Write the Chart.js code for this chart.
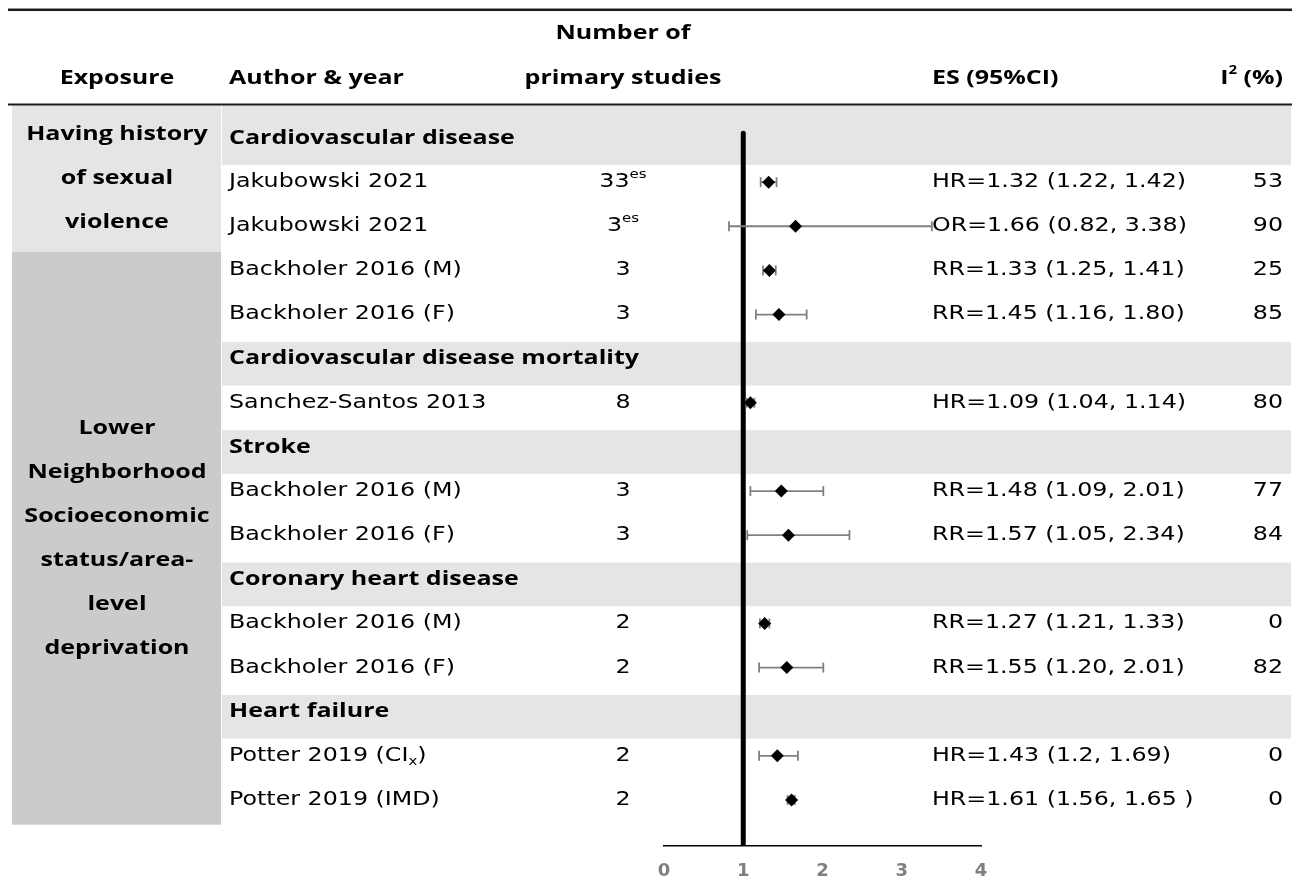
<!DOCTYPE html>
<html><head><meta charset="utf-8">
<script src="https://cdn.jsdelivr.net/npm/chart.js@4.4.1/dist/chart.umd.min.js"></script>
<style>html,body{margin:0;padding:0;background:#fff;}canvas{display:block;}</style>
</head><body>
<div style="width:1300px;height:881px"><canvas id="c" width="1300" height="881"></canvas></div>
<script>
// ---------------- data ----------------
const exposureLines = [['Having history','of sexual','violence'],['Lower','Neighborhood','Socioeconomic','status/area-','level','deprivation']];
const exposureStudyCount = [2, 9];
const outcomes = ['Cardiovascular disease','Cardiovascular disease mortality','Stroke','Coronary heart disease','Heart failure'];
const outcomeStudyCount = [4, 1, 2, 2, 2];
const studies = ['Jakubowski 2021','Jakubowski 2021','Backholer 2016 (M)','Backholer 2016 (F)','Sanchez-Santos 2013','Backholer 2016 (M)','Backholer 2016 (F)','Backholer 2016 (M)','Backholer 2016 (F)','Potter 2019 (CI~x~)','Potter 2019 (IMD)'];
const primaryStudies = ['33^es^','3^es^','3','3','8','3','3','2','2','2','2'];
const estimates = [1.32, 1.66, 1.33, 1.45, 1.09, 1.48, 1.57, 1.27, 1.55, 1.43, 1.61];
const lowerCI   = [1.22, 0.82, 1.25, 1.16, 1.04, 1.09, 1.05, 1.21, 1.20, 1.2, 1.56];
const upperCI   = [1.42, 3.38, 1.41, 1.80, 1.14, 2.01, 2.34, 1.33, 2.01, 1.69, 1.65];
const esLabels  = ['HR=1.32 (1.22, 1.42)','OR=1.66 (0.82, 3.38)','RR=1.33 (1.25, 1.41)','RR=1.45 (1.16, 1.80)','HR=1.09 (1.04, 1.14)','RR=1.48 (1.09, 2.01)','RR=1.57 (1.05, 2.34)','RR=1.27 (1.21, 1.33)','RR=1.55 (1.20, 2.01)','HR=1.43 (1.2, 1.69)','HR=1.61 (1.56, 1.65 )'];
const iSquared  = ['53','90','25','85','80','77','84','0','82','0','0'];
const headers   = {exposure:'Exposure', author:'Author & year', n1:'Number of', n2:'primary studies', es:'ES (95%CI)', i2:'I^2^ (%)'};
const xTicks = [0, 1, 2, 3, 4];
const nullValue = 1;

// ---------------- row structure ----------------
const rows = [];
let r = 0, k = 0;
outcomes.forEach((o, oi) => {
  rows.push({type:'hdr', text:o, y:r++});
  for (let j = 0; j < outcomeStudyCount[oi]; j++) rows.push({type:'study', k:k++, y:r++});
});
const studyRow = rows.filter(x => x.type === 'study').map(x => x.y);
const Y_MIN = -0.748, Y_MAX = 16.043;

// ---------------- text helpers ----------------
function parseRich(s){
  const segs = [];
  s.split(/(\^[^^]+\^|~[^~]+~)/).forEach(p => {
    if (!p) return;
    if (p[0] === '^') segs.push({t:p.slice(1,-1), mode:'sup'});
    else if (p[0] === '~') segs.push({t:p.slice(1,-1), mode:'sub'});
    else segs.push({t:p, mode:''});
  });
  return segs;
}
function drawText(ctx, s, x, y, o){
  const bold = !!o.bold, size = o.size || 19, align = o.align || 'left', sx = o.sx || 1.25;
  const fam = bold ? '"Open Sans", "DejaVu Sans", sans-serif' : '"DejaVu Sans", sans-serif';
  const weight = bold ? '700' : '400';
  const segs = parseRich(s);
  const fontFor = m => `${weight} ${m ? Math.round(size*0.62) : size}px ${fam}`;
  let total = 0;
  segs.forEach(g => { ctx.font = fontFor(g.mode); g.w = ctx.measureText(g.t).width; total += g.w; });
  const start = align === 'left' ? 0 : align === 'center' ? -total/2 : -total;
  ctx.save();
  ctx.translate(x, y); ctx.scale(sx, 1);
  ctx.fillStyle = o.color || '#000'; ctx.textBaseline = 'middle'; ctx.textAlign = 'left';
  let cx = start;
  segs.forEach(g => {
    ctx.font = fontFor(g.mode);
    const dy = g.mode === 'sup' ? -size*0.38 : g.mode === 'sub' ? size*0.3 : 0;
    ctx.fillText(g.t, cx, dy); cx += g.w;
  });
  ctx.restore();
}

// ---------------- table plugin ----------------
const COL = {expL:12, expR:221, bandL:222, bandR:1291, author:229, num:623, es:932, i2:1283, expC:117, lineL:8, lineR:1292};
const tablePlugin = {
  id:'table',
  beforeDraw(chart){
    const ctx = chart.ctx, Y = v => chart.scales.y.getPixelForValue(v);
    ctx.save();
    ctx.fillStyle = '#fff'; ctx.fillRect(0, 0, chart.width, chart.height);
    // exposure cells
    let first = 0, prevBound = Y_MIN;
    exposureStudyCount.forEach((n, ei) => {
      const lastRow = studyRow[first + n - 1];
      const bound = ei === exposureStudyCount.length - 1 ? lastRow + 0.56 : lastRow + 0.58;
      ctx.fillStyle = ei === 0 ? '#e5e5e5' : '#cbcbcb';
      ctx.fillRect(COL.expL, Y(prevBound), COL.expR - COL.expL, Y(bound) - Y(prevBound));
      first += n; prevBound = bound;
    });
    // outcome bands
    ctx.fillStyle = '#e5e5e5';
    rows.filter(x => x.type === 'hdr').forEach(h => {
      const top = h.y === 0 ? Y_MIN : h.y - 0.38;
      ctx.fillRect(COL.bandL, Y(top), COL.bandR - COL.bandL, Y(h.y + 0.61) - Y(top));
    });
    // rules
    ctx.fillStyle = '#1a1a1a';
    ctx.fillRect(COL.lineL, Y(-2.9) - 1.5, COL.lineR - COL.lineL, 2.5);
    ctx.fillRect(COL.lineL, Y(Y_MIN) - 1.5, COL.lineR - COL.lineL, 2);
    ctx.restore();
  },
  afterDatasetsDraw(chart){
    const ctx = chart.ctx, Y = v => chart.scales.y.getPixelForValue(v);
    // column headers
    drawText(ctx, headers.n1, COL.num, Y(-2.38), {bold:true, size:20, align:'center'});
    drawText(ctx, headers.exposure, COL.expC, Y(-1.36), {bold:true, size:20, align:'center'});
    drawText(ctx, headers.author, COL.author, Y(-1.36), {bold:true, size:20});
    drawText(ctx, headers.n2, COL.num, Y(-1.36), {bold:true, size:20, align:'center'});
    drawText(ctx, headers.es, COL.es, Y(-1.36), {bold:true, size:20});
    drawText(ctx, headers.i2, COL.i2, Y(-1.36), {bold:true, size:20, align:'right'});
    // exposure labels
    let first = 0, prevBound = Y_MIN;
    exposureStudyCount.forEach((n, ei) => {
      const lastRow = studyRow[first + n - 1];
      const bound = ei === exposureStudyCount.length - 1 ? lastRow + 0.56 : lastRow + 0.58;
      const c = (prevBound + bound) / 2, lines = exposureLines[ei];
      lines.forEach((t, li) => drawText(ctx, t, COL.expC, Y(c + (li - (lines.length - 1)/2)), {bold:true, size:20, align:'center'}));
      first += n; prevBound = bound;
    });
    // rows
    rows.forEach(rw => {
      if (rw.type === 'hdr') {
        drawText(ctx, rw.text, COL.author, Y(rw.y), {bold:true, size:20});
      } else {
        const i = rw.k, y = Y(rw.y);
        drawText(ctx, studies[i], COL.author, y, {size:19});
        drawText(ctx, primaryStudies[i], COL.num, y, {size:19, align:'center'});
        drawText(ctx, esLabels[i], COL.es, y, {size:19});
        drawText(ctx, iSquared[i], COL.i2, y, {size:19, align:'right'});
      }
    });
  }
};

// ---------------- datasets ----------------
const datasets = [];
datasets.push({label:'ES', data: estimates.map((v, i) => ({x:v, y:studyRow[i]})), pointStyle:'rectRot', pointRadius:6.5, backgroundColor:'#000', borderColor:'#000', borderWidth:0, showLine:false});
estimates.forEach((v, i) => datasets.push({label:'CI ' + i, data:[{x:lowerCI[i], y:studyRow[i]}, {x:upperCI[i], y:studyRow[i]}], showLine:true, borderColor:'#808080', borderWidth:1.8, pointStyle:'line', pointRotation:90, pointRadius:5, pointBorderColor:'#808080', pointBorderWidth:1.8, fill:false}));
datasets.push({label:'null', data:[{x:nullValue, y:-0.11}, {x:nullValue, y:Y_MAX}], showLine:true, borderColor:'#000', borderWidth:5, pointRadius:0, borderCapStyle:'round'});

new Chart(document.getElementById('c'), {
  type:'scatter',
  data:{datasets},
  options:{
    responsive:false, animation:false, events:[],
    layout:{padding:{left:664, right:319, top:105, bottom:0}},
    plugins:{legend:{display:false}, tooltip:{enabled:false}},
    scales:{
      x:{type:'linear', min:0, max:4, position:'bottom',
         afterFit: s => { s.height = 35; },
         grid:{display:false, drawTicks:false},
         border:{display:true, color:'#000', width:1.5},
         ticks:{stepSize:1, color:'#7f7f7f', padding:15, font:{family:'"DejaVu Sans", sans-serif', weight:'bold', size:18},
                callback: v => xTicks.includes(v) ? String(v) : ''}},
      y:{type:'linear', min:Y_MIN, max:Y_MAX, reverse:true, display:false}
    }
  },
  plugins:[tablePlugin]
});
</script>
</body></html>
